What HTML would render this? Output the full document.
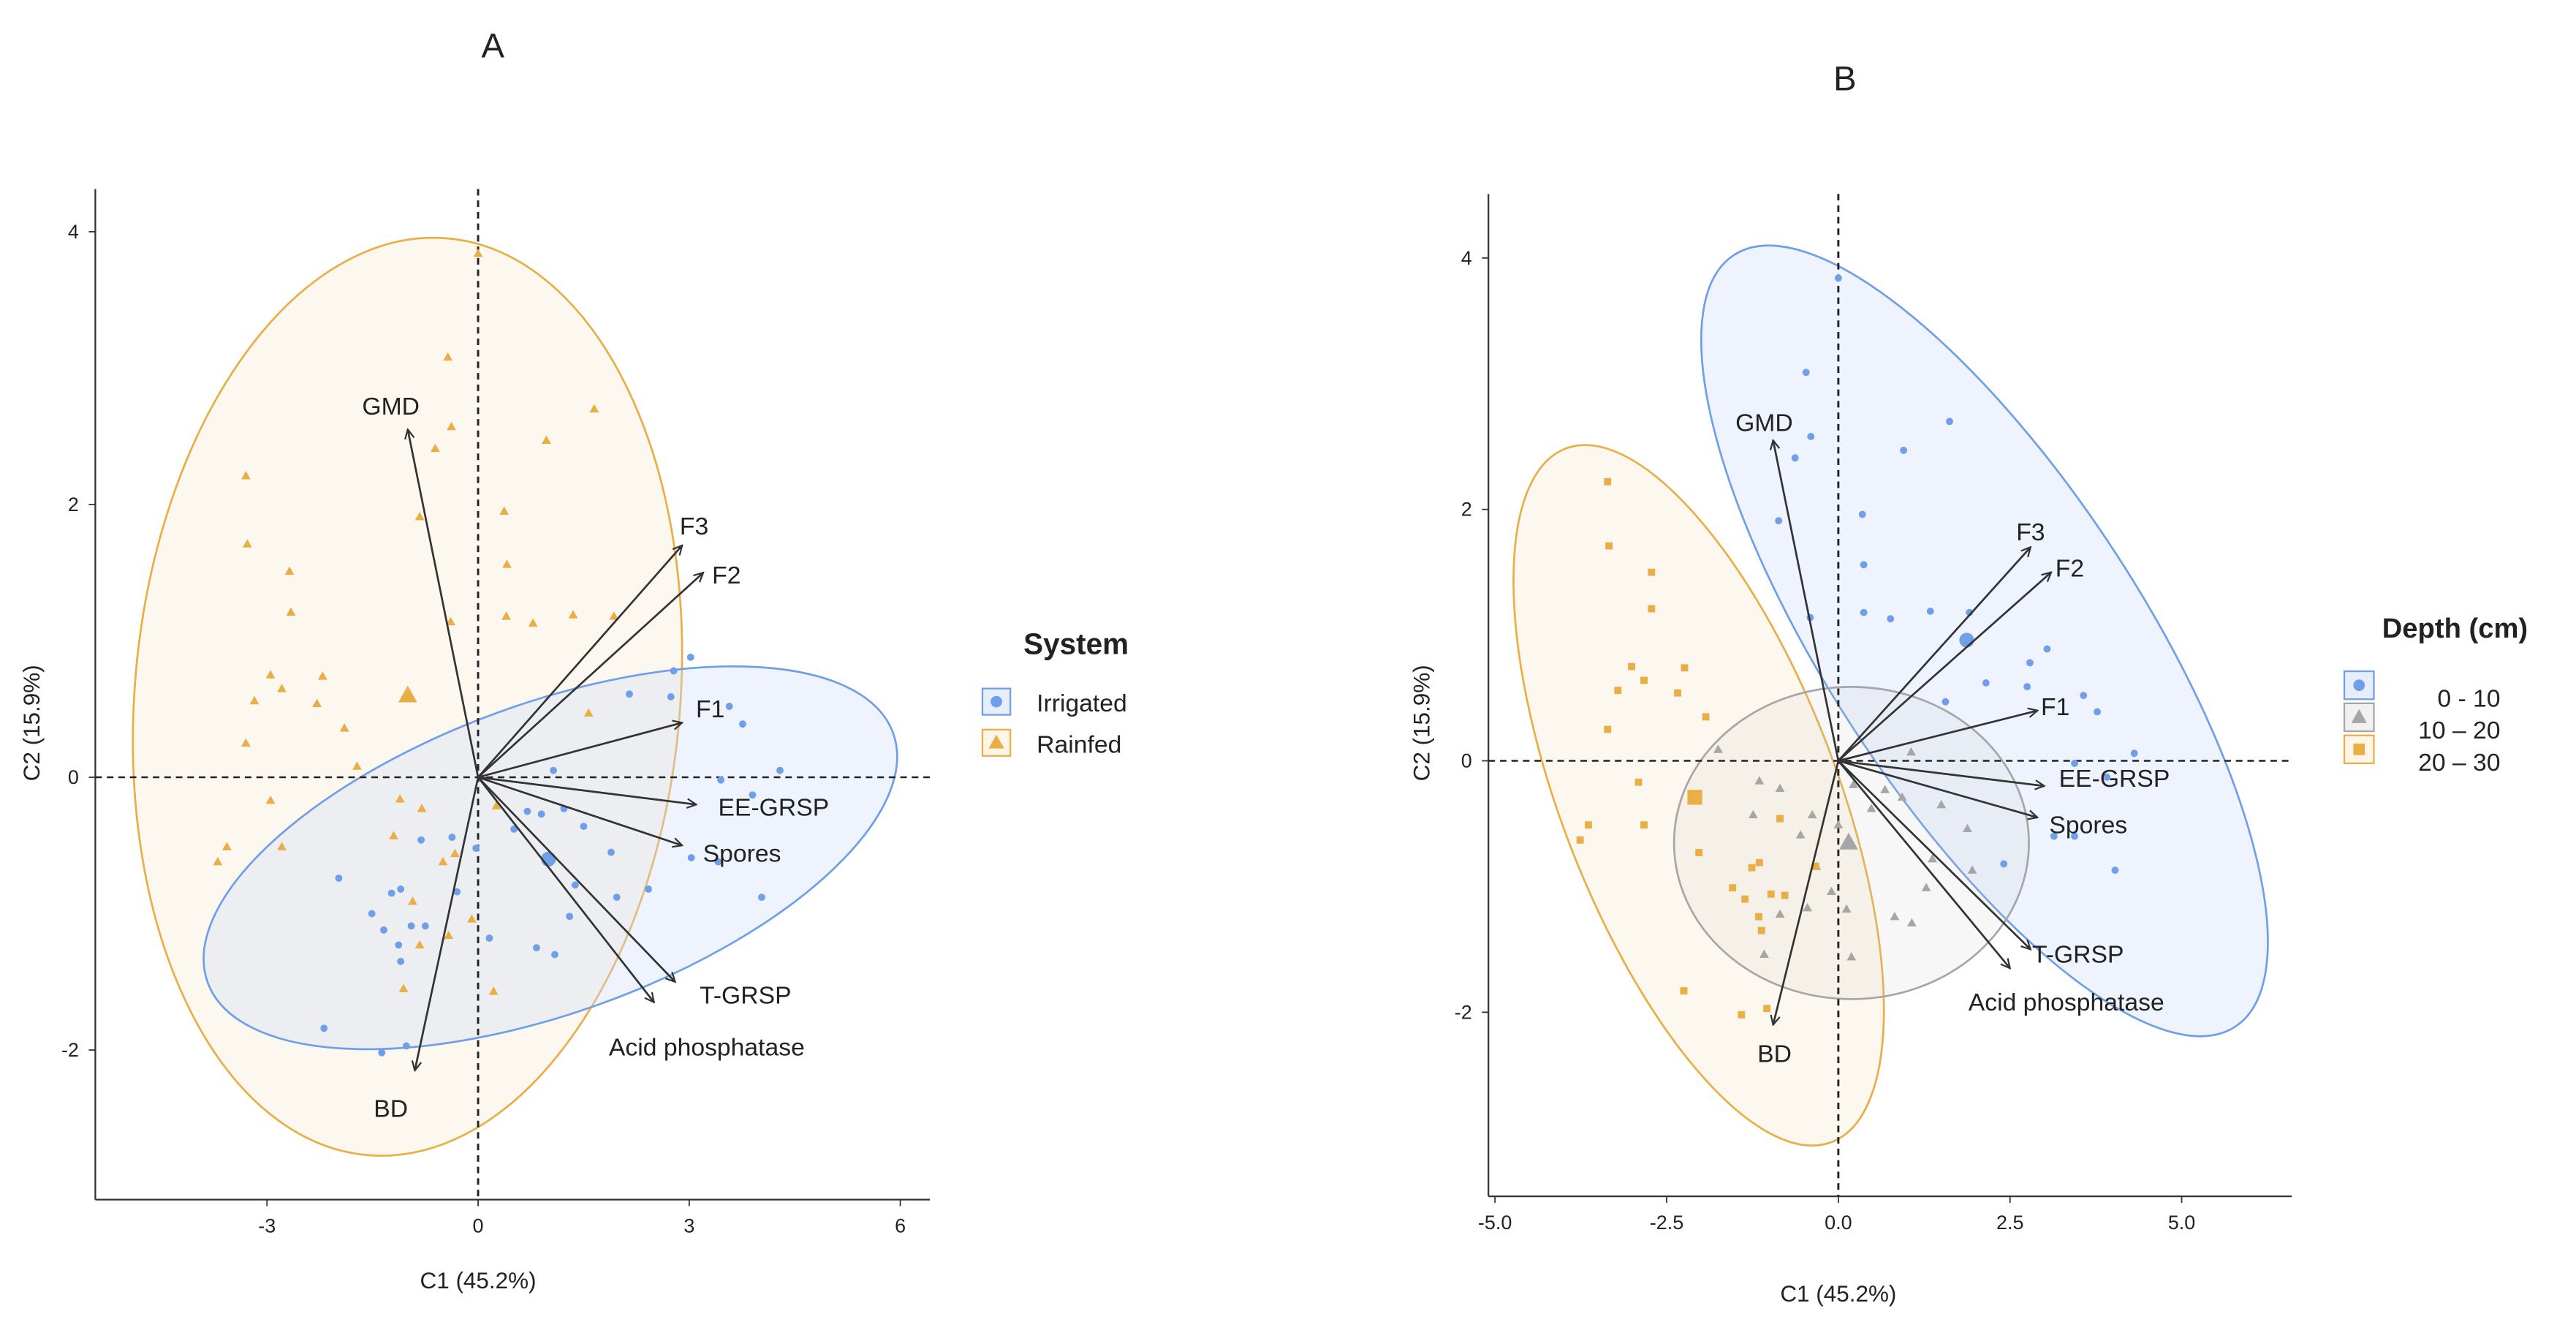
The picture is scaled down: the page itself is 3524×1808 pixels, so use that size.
<!DOCTYPE html>
<html><head><meta charset="utf-8"><style>
html,body{margin:0;padding:0;background:#fff}
svg{display:block}
text{font-family:"Liberation Sans","DejaVu Sans",sans-serif;fill:#222}
</style></head><body>
<svg id="fig" width="3524" height="1808" viewBox="0 0 1568 804.5" xmlns="http://www.w3.org/2000/svg">
<defs>
<marker id="ah" viewBox="0 0 10 10" refX="9" refY="5" markerWidth="7" markerHeight="7" orient="auto-start-reverse" markerUnits="userSpaceOnUse">
<path d="M1,1 L9,5 L1,9" fill="none" stroke="#333" stroke-width="1.4"/>
</marker>
</defs>
<g id="panelA"></g>
<g id="panelB"></g>
</svg>
<script>
// ---------- shared loadings ----------
const varNames = ["GMD","F3","F2","F1","EE-GRSP","Spores","T-GRSP","Acid phosphatase","BD"];
const loadA_x = [-1.0, 2.9, 3.2, 2.9, 3.1, 2.9, 2.8, 2.5, -0.9];
const loadA_y = [2.55, 1.7, 1.5, 0.4, -0.2, -0.5, -1.5, -1.65, -2.15];
const labA_x = [-1.24, 3.07, 3.53, 3.3, 4.2, 3.75, 3.8, 3.25, -1.24];
const labA_y = [2.72, 1.84, 1.48, 0.5, -0.22, -0.56, -1.6, -1.98, -2.43];
const loadB_x = [-0.95, 2.8, 3.1, 2.9, 3.0, 2.9, 2.8, 2.5, -0.95];
const loadB_y = [2.55, 1.7, 1.5, 0.4, -0.2, -0.45, -1.5, -1.65, -2.1];
const labB_x = [-1.08, 2.8, 3.37, 3.16, 4.02, 3.64, 3.49, 3.32, -0.93];
const labB_y = [2.69, 1.82, 1.53, 0.43, -0.14, -0.51, -1.54, -1.92, -2.33];

// ---------- panel A scores ----------
const rainX = [0,-0.43,1.65,-0.38,-0.61,0.97,-3.30,0.37,-0.83,-3.28,0.41,-2.68,-2.66,-0.39,0.40,0.78,1.35,1.93,-2.95,-2.21,-3.18,-2.79,-2.29,-1.90,1.57,-3.30,-1.72,-2.95,-3.57,-2.79,-3.70,-1.11,-0.80,-1.20,-0.33,-0.50,-0.93,-0.09,-0.42,-0.83,-1.06,0.22,0.26];
const rainY = [3.84,3.08,2.70,2.57,2.41,2.47,2.21,1.95,1.91,1.71,1.56,1.51,1.21,1.14,1.18,1.13,1.19,1.18,0.75,0.74,0.56,0.65,0.54,0.36,0.47,0.25,0.08,-0.17,-0.51,-0.51,-0.62,-0.16,-0.23,-0.43,-0.56,-0.62,-0.91,-1.04,-1.16,-1.23,-1.55,-1.57,-0.21];
const irrX = [3.02,2.78,2.15,2.74,3.57,3.76,1.07,4.29,3.45,3.90,0.70,0.90,1.22,0.51,1.50,-0.81,-0.37,-0.03,1.89,3.03,3.41,2.42,4.03,1.38,1.97,-1.98,-1.23,-1.10,-0.30,-1.51,-1.34,-0.95,-0.75,1.30,-1.13,-1.10,0.16,0.83,1.09,-2.19,-1.37,-1.02];
const irrY = [0.88,0.78,0.61,0.59,0.52,0.39,0.05,0.05,-0.02,-0.13,-0.25,-0.27,-0.23,-0.38,-0.36,-0.46,-0.44,-0.52,-0.55,-0.59,-0.62,-0.82,-0.88,-0.79,-0.88,-0.74,-0.85,-0.82,-0.84,-1.00,-1.12,-1.09,-1.09,-1.02,-1.23,-1.35,-1.18,-1.25,-1.30,-1.84,-2.02,-1.97];
const centA_x = [1.0, -1.0];
const centA_y = [-0.6, 0.6];
const xTicksA = [-3, 0, 3, 6];
const yTicksA = [-2, 0, 2, 4];

// ---------- panel B scores ----------
const d1X = [0,-0.47,1.62,-0.40,-0.63,0.95,-0.87,0.35,0.37,-0.41,0.37,0.76,1.34,1.91,3.04,2.79,2.15,2.75,3.57,3.77,1.56,4.31,3.44,3.91,3.14,3.44,2.41,4.03];
const d1Y = [3.84,3.09,2.70,2.58,2.41,2.47,1.91,1.96,1.56,1.14,1.18,1.13,1.19,1.18,0.89,0.78,0.62,0.59,0.52,0.39,0.47,0.06,-0.02,-0.13,-0.6,-0.6,-0.82,-0.87];
const d2X = [-1.75,1.06,-1.15,-0.85,0.22,0.68,0.93,0.48,1.50,-1.24,-0.38,0,1.88,-0.55,1.37,1.95,-0.32,-0.10,1.28,-0.45,0.12,-0.85,0.82,1.07,-1.08,0.19];
const d2Y = [0.09,0.07,-0.16,-0.22,-0.19,-0.23,-0.29,-0.38,-0.35,-0.43,-0.43,-0.51,-0.54,-0.59,-0.78,-0.87,-0.84,-1.04,-1.01,-1.17,-1.18,-1.22,-1.24,-1.29,-1.54,-1.56];
const d3X = [-3.36,-3.34,-2.72,-2.72,-3.01,-2.24,-3.21,-2.83,-2.34,-1.93,-3.36,-2.91,-3.64,-2.83,-3.76,-0.85,-2.03,-0.33,-1.26,-1.15,-1.54,-1.36,-0.98,-0.78,-1.16,-1.12,-2.25,-1.41,-1.04];
const d3Y = [2.22,1.71,1.50,1.21,0.75,0.74,0.56,0.64,0.54,0.35,0.25,-0.17,-0.51,-0.51,-0.63,-0.46,-0.73,-0.84,-0.85,-0.81,-1.01,-1.10,-1.06,-1.07,-1.24,-1.35,-1.83,-2.02,-1.97];
const centB_x = [1.87, 0.15, -2.09];
const centB_y = [0.96, -0.65, -0.29];
const xTicksB = [-5.0, -2.5, 0.0, 2.5, 5.0];
const yTicksB = [-2, 0, 2, 4];

const BLUE="#6f9fe8", ORANGE="#e9ae46", GRAY="#a6a6a6";
const NS="http://www.w3.org/2000/svg";
function mk(parent, tag, attrs, txt){const e=document.createElementNS(NS,tag);for(const k in attrs)e.setAttribute(k,attrs[k]);if(txt!==undefined)e.textContent=txt;parent.appendChild(e);return e;}
function lin(d0,d1,r0,r1){return v=>r0+(v-d0)*(r1-r0)/(d1-d0);}

function tri(g,x,y,s,c){return mk(g,'path',{d:`M${x},${y-s} L${x+s*0.95},${y+s*0.7} L${x-s*0.95},${y+s*0.7}Z`,fill:c});}
function sq(g,x,y,s,c){return mk(g,'rect',{x:x-s,y:y-s,width:2*s,height:2*s,fill:c});}
function dot(g,x,y,s,c){return mk(g,'circle',{cx:x,cy:y,r:s,fill:c});}

function axes(g,sx,sy,L,R,T,B,xt,yt,fmt){
  const ax=mk(g,'g',{});
  
  
  mk(ax,'line',{x1:L,y1:T,x2:L,y2:B,stroke:'#333','stroke-width':1});
  mk(ax,'line',{x1:L,y1:B,x2:R,y2:B,stroke:'#333','stroke-width':1});
  xt.forEach(v=>{const x=sx(v);mk(ax,'line',{x1:x,y1:B,x2:x,y2:B+4,stroke:'#333','stroke-width':0.8});
    const t=mk(ax,'text',{x:x,y:B+20,'text-anchor':'middle','font-size':12,fill:'#444'},fmt(v));
    
    });
  yt.forEach(v=>{const y=sy(v);mk(ax,'line',{x1:L-4,y1:y,x2:L,y2:y,stroke:'#333','stroke-width':0.8});
    const t=mk(ax,'text',{x:L-10,y:y+4,'text-anchor':'end','font-size':12,fill:'#444'},String(v));
    
    });
}
function zeroLines(g,sx,sy,L,R,T,B){
  mk(g,'line',{x1:sx(0),y1:T,x2:sx(0),y2:B,stroke:'#222','stroke-width':1.3,'stroke-dasharray':'4,3'});
  mk(g,'line',{x1:L,y1:sy(0),x2:R,y2:sy(0),stroke:'#222','stroke-width':1.1,'stroke-dasharray':'4,3'});
}
function arrows(g,sx,sy,lx,ly,tx,ty){
  const ag=mk(g,'g',{});
  
  
  varNames.forEach((n,i)=>{
    const l=mk(ag,'line',{x1:sx(0),y1:sy(0),x2:sx(lx[i]),y2:sy(ly[i]),stroke:'#333','stroke-width':1.2,'marker-end':'url(#ah)'});
    
    
    const t=mk(ag,'text',{x:sx(tx[i]),y:sy(ty[i])+5,'text-anchor':'middle','font-size':15,fill:'#222'},n);
    
    
  });
}

// ---------- Panel A ----------
(function(){
  const g=document.getElementById('panelA');
  const L=58,R=566,T=115,B=730;
  const sx=lin(0,3,291,419.5), sy=lin(0,2,473,307);
  const tA=mk(g,'text',{x:300,y:35,'text-anchor':'middle','font-size':21},'A');
  
  
  // ellipses
  const e1=mk(g,'ellipse',{cx:248,cy:424,rx:166,ry:280,transform:'rotate(5 248 424)',fill:'rgba(249,236,210,0.35)',stroke:ORANGE,'stroke-width':1.2});
  
  
  const e2=mk(g,'ellipse',{cx:335,cy:522,rx:222,ry:94,transform:'rotate(-20 335 522)',fill:'rgba(205,222,248,0.35)',stroke:BLUE,'stroke-width':1.2});
  
  
  axes(g,sx,sy,L,R,T,B,xTicksA,yTicksA,v=>String(v));
  zeroLines(g,sx,sy,L,R,T,B);
  const pg=mk(g,'g',{});
  
  
  rainX.forEach((x,i)=>{const p=tri(pg,sx(x),sy(rainY[i]),3,ORANGE);
    
    });
  irrX.forEach((x,i)=>{const p=dot(pg,sx(x),sy(irrY[i]),2.2,BLUE);
    
    });
  const c1=dot(pg,sx(centA_x[0]),sy(centA_y[0]),4.5,BLUE);
  
  
  const c2=tri(pg,sx(centA_x[1]),sy(centA_y[1]),6,ORANGE);
  
  
  arrows(g,sx,sy,loadA_x,loadA_y,labA_x,labA_y);
  const xt=mk(g,'text',{x:291,y:784,'text-anchor':'middle','font-size':14,fill:'#333'},'C1 (45.2%)');
  
  
  const yt=mk(g,'text',{x:24,y:440,'text-anchor':'middle','font-size':14,fill:'#333',transform:'rotate(-90 24 440)'},'C2 (15.9%)');
  
  
  // legend
  const lg=mk(g,'g',{});
  
  
  mk(lg,'text',{x:623,y:398,'font-size':18,'font-weight':'bold',fill:'#111'},'System');
  const e3=mk(lg,'g',{});
  
  
  mk(e3,'rect',{x:598,y:419,width:17,height:16,fill:'rgba(205,222,248,0.5)',stroke:BLUE,'stroke-width':1});
  dot(e3,606.5,427,3.5,BLUE);
  mk(e3,'text',{x:631,y:433,'font-size':15},'Irrigated');
  const e4=mk(lg,'g',{});
  
  
  mk(e4,'rect',{x:598,y:444,width:17,height:16,fill:'rgba(249,236,210,0.5)',stroke:ORANGE,'stroke-width':1});
  tri(e4,606.5,452,5,ORANGE);
  mk(e4,'text',{x:631,y:458,'font-size':15},'Rainfed');
})();

// ---------- Panel B ----------
(function(){
  const g=document.getElementById('panelB');
  const L=906,R=1395,T=118,B=728;
  const sx=lin(0,2.5,1119,1223.5), sy=lin(0,2,463,310);
  const tB=mk(g,'text',{x:1123,y:55,'text-anchor':'middle','font-size':21},'B');
  
  
  const e1=mk(g,'ellipse',{cx:1208,cy:390,rx:280,ry:96,transform:'rotate(57 1208 390)',fill:'rgba(205,222,248,0.35)',stroke:BLUE,'stroke-width':1.2});
  
  
  const e2=mk(g,'ellipse',{cx:1034,cy:484,rx:226,ry:84,transform:'rotate(69 1034 484)',fill:'rgba(249,236,210,0.35)',stroke:ORANGE,'stroke-width':1.2});
  
  
  const e3=mk(g,'ellipse',{cx:1127,cy:513,rx:108,ry:95,fill:'rgba(200,200,200,0.15)',stroke:GRAY,'stroke-width':1.2});
  
  
  axes(g,sx,sy,L,R,T,B,xTicksB,yTicksB,v=>v.toFixed(1));
  zeroLines(g,sx,sy,L,R,T,B);
  const pg=mk(g,'g',{});
  
  
  d1X.forEach((x,i)=>{const p=dot(pg,sx(x),sy(d1Y[i]),2.2,BLUE);
    
    });
  d2X.forEach((x,i)=>{const p=tri(pg,sx(x),sy(d2Y[i]),3,GRAY);
    
    });
  d3X.forEach((x,i)=>{const p=sq(pg,sx(x),sy(d3Y[i]),2.2,ORANGE);
    
    });
  const c1=dot(pg,sx(centB_x[0]),sy(centB_y[0]),4.5,BLUE);
  
  
  const c2=tri(pg,sx(centB_x[1]),sy(centB_y[1]),6,GRAY);
  
  
  const c3=sq(pg,sx(centB_x[2]),sy(centB_y[2]),4.5,ORANGE);
  
  
  arrows(g,sx,sy,loadB_x,loadB_y,labB_x,labB_y);
  const xt=mk(g,'text',{x:1119,y:792,'text-anchor':'middle','font-size':14,fill:'#333'},'C1 (45.2%)');
  
  
  const yt=mk(g,'text',{x:870,y:440,'text-anchor':'middle','font-size':14,fill:'#333',transform:'rotate(-90 870 440)'},'C2 (15.9%)');
  
  
  const lg=mk(g,'g',{});
  
  
  mk(lg,'text',{x:1450,y:388,'font-size':17,'font-weight':'bold',fill:'#111'},'Depth (cm)');
  const labels=['0 - 10','10 – 20','20 – 30'], cols=[BLUE,GRAY,ORANGE], fills=['rgba(205,222,248,0.5)','rgba(220,220,220,0.4)','rgba(249,236,210,0.5)'];
  labels.forEach((lab,i)=>{
    const y=417+i*19.5;
    const e=mk(lg,'g',{});
    
    
    mk(e,'rect',{x:1427,y:y-8.5,width:18,height:17,fill:fills[i],stroke:cols[i],'stroke-width':1});
    if(i===0)dot(e,1436,y,3.5,cols[i]);else if(i===1)tri(e,1436,y,5,cols[i]);else sq(e,1436,y,3.5,cols[i]);
    mk(e,'text',{x:1522,y:y+13,'text-anchor':'end','font-size':15},lab);
  });
})();
</script>
</body></html>
